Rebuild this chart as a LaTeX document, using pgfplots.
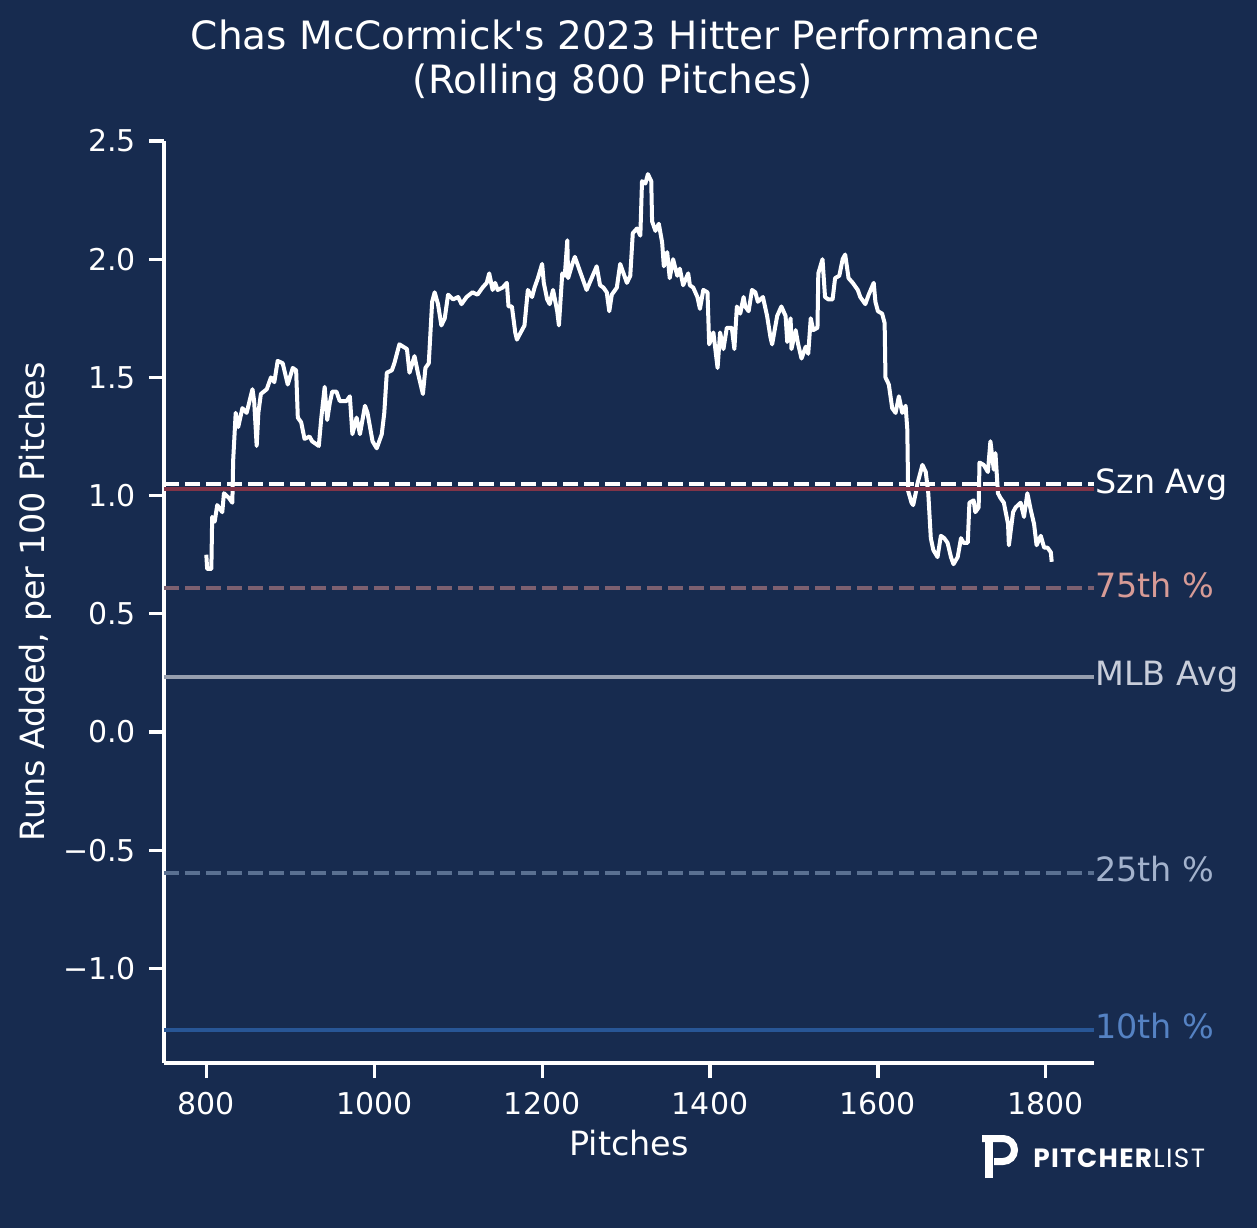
\documentclass[border=0pt]{standalone}
\usepackage{pgfplots}
\pgfplotsset{compat=1.18}
\usepackage{fontspec}
\setmainfont{DejaVu Sans}[Ligatures=TeXOff]
\newfontfamily\logofont{Poppins}[LetterSpace=5]
\definecolor{bg}{RGB}{23,43,79}
\definecolor{redline}{RGB}{128,52,72}
\definecolor{p75line}{RGB}{125,96,112}
\definecolor{p75txt}{RGB}{215,155,150}
\definecolor{mlbline}{RGB}{150,158,175}
\definecolor{mlbtxt}{RGB}{200,205,218}
\definecolor{p25line}{RGB}{90,112,145}
\definecolor{p25txt}{RGB}{163,178,204}
\definecolor{p10line}{RGB}{40,86,150}
\definecolor{p10txt}{RGB}{85,130,195}
\begin{document}
\begin{tikzpicture}
\fill[bg] (0pt,0pt) rectangle (628.5pt,614pt);
\begin{axis}[
  scale only axis, width=465pt, height=461pt,
  anchor=south west, at={(82pt,82.5pt)},
  xmin=749.6, xmax=1857.4, ymin=-1.4, ymax=2.5,
  axis lines=left, axis line style={-, white, line width=1.6pt},
  tick align=outside, major tick length=7.5pt,
  tick style={white, line width=1.6pt},
  xtick={800,1000,1200,1400,1600,1800},
  xticklabels={800,1000,1200,1400,1600,1800},
  ytick={-1,-0.5,0,0.5,1,1.5,2,2.5},
  yticklabels={−1.0,−0.5,0.0,0.5,1.0,1.5,2.0,2.5},
  ticklabel style={font=\fontsize{15pt}{18pt}\selectfont, text=white},
  xticklabel style={yshift=-3.5pt},
  yticklabel style={xshift=-3pt},
  every axis x label/.style={at={(axis description cs:0.5,-0.0998)}, anchor=base, font=\fontsize{16.7pt}{20pt}\selectfont, text=white},
  every axis y label/.style={at={(axis description cs:-0.1380,0.5)}, rotate=90, anchor=center, font=\fontsize{16.7pt}{20pt}\selectfont, text=white},
  xlabel={Pitches}, ylabel={Runs Added, per 100 Pitches},
  clip=false,
]
\addplot[white, line width=2pt, line join=round] coordinates {
(800,0.75) (801,0.69) (806,0.69) (807,0.91) (810,0.89) (813,0.96) (819,0.93) (821,1.01) (827,0.99) (831,0.97)
(832,1.15) (835,1.35) (838,1.29) (843,1.37) (848,1.35) (855,1.45) (857,1.40) (860,1.21) (862,1.35) (865,1.43)
(872,1.45) (877,1.50) (881,1.48) (885,1.57) (891,1.56) (897,1.47) (903,1.54) (907,1.53) (909,1.33) (913,1.31)
(917,1.24) (923,1.25) (926,1.23) (934,1.21) (937,1.33) (941,1.46) (944,1.32) (947,1.39) (950,1.44) (955,1.44)
(959,1.40) (967,1.40) (971,1.42) (974,1.26) (979,1.33) (983,1.26) (989,1.38) (992,1.35) (998,1.23) (1003,1.20)
(1009,1.26) (1012,1.35) (1015,1.52) (1021,1.53) (1024,1.56) (1030,1.64) (1039,1.62) (1042,1.52) (1048,1.59) (1052,1.52)
(1058,1.43) (1061,1.54) (1065,1.56) (1069,1.82) (1072,1.86) (1076,1.81) (1080,1.72) (1084,1.75) (1088,1.85) (1094,1.83)
(1100,1.84) (1104,1.81) (1110,1.84) (1117,1.86) (1123,1.85) (1129,1.88) (1134,1.90) (1137,1.94) (1141,1.87) (1144,1.90)
(1147,1.87) (1153,1.88) (1158,1.90) (1160,1.80) (1164,1.80) (1168,1.69) (1170,1.66) (1176,1.70) (1179,1.72) (1183,1.87)
(1188,1.84) (1191,1.88) (1195,1.92) (1200,1.98) (1202,1.90) (1206,1.83) (1209,1.81) (1213,1.87) (1218,1.78) (1220,1.72)
(1224,1.94) (1227,1.93) (1230,2.08) (1231,1.92) (1236,1.98) (1239,2.01) (1243,1.97) (1248,1.92) (1253,1.87) (1259,1.92)
(1265,1.97) (1269,1.89) (1273,1.88) (1277,1.86) (1280,1.78) (1283,1.85) (1289,1.88) (1293,1.98) (1296,1.95) (1301,1.90)
(1305,1.93) (1308,2.11) (1313,2.13) (1317,2.10) (1319,2.33) (1323,2.32) (1326,2.36) (1330,2.33) (1331,2.16) (1335,2.12)
(1339,2.15) (1343,2.07) (1345,1.97) (1349,2.03) (1352,1.92) (1356,2.00) (1361,1.93) (1364,1.96) (1368,1.89) (1374,1.94)
(1376,1.89) (1380,1.88) (1385,1.84) (1388,1.79) (1392,1.87) (1397,1.86) (1399,1.64) (1404,1.69) (1409,1.54) (1412,1.69)
(1416,1.62) (1420,1.71) (1426,1.71) (1429,1.62) (1432,1.80) (1436,1.77) (1440,1.84) (1442,1.80) (1446,1.78) (1450,1.87)
(1454,1.86) (1457,1.82) (1463,1.84) (1468,1.76) (1472,1.67) (1474,1.64) (1480,1.76) (1485,1.80) (1490,1.76) (1492,1.65)
(1496,1.75) (1497,1.62) (1502,1.70) (1505,1.64) (1509,1.58) (1514,1.63) (1517,1.60) (1520,1.75) (1523,1.70) (1528,1.71)
(1529,1.94) (1534,2.00) (1537,1.84) (1541,1.83) (1546,1.83) (1549,1.92) (1554,1.93) (1558,2.00) (1561,2.02) (1565,1.92)
(1570,1.90) (1576,1.87) (1579,1.84) (1585,1.81) (1589,1.85) (1595,1.90) (1597,1.82) (1600,1.78) (1605,1.77) (1608,1.73)
(1609,1.50) (1613,1.47) (1617,1.37) (1621,1.35) (1625,1.42) (1629,1.35) (1633,1.38) (1635,1.28) (1636,1.02) (1640,0.97)
(1642,0.96) (1645,1.01) (1647,1.05) (1653,1.13) (1657,1.10) (1660,1.01) (1663,0.82) (1666,0.77) (1671,0.74) (1675,0.83)
(1679,0.82) (1683,0.80) (1687,0.74) (1690,0.71) (1695,0.74) (1699,0.82) (1702,0.80) (1707,0.80) (1709,0.97) (1714,0.98)
(1716,0.93) (1720,0.95) (1721,1.14) (1726,1.13) (1731,1.10) (1734,1.23) (1738,1.11) (1740,1.18) (1743,1.01) (1746,0.99)
(1750,0.97) (1755,0.88) (1756,0.79) (1761,0.93) (1764,0.95) (1770,0.97) (1774,0.91) (1778,1.01) (1782,0.94) (1786,0.88)
(1789,0.79) (1794,0.83) (1798,0.78) (1802,0.78) (1806,0.76) (1807,0.72)
};
\addplot[white, line width=2pt, dash pattern=on 7.3pt off 3.2pt] coordinates {(749.6,1.048) (1857.4,1.048)};
\addplot[redline, line width=2pt] coordinates {(749.6,1.026) (1857.4,1.026)};
\addplot[p75line, line width=2pt, dash pattern=on 7.3pt off 3.2pt] coordinates {(749.6,0.610) (1857.4,0.610)};
\addplot[mlbline, line width=2pt] coordinates {(749.6,0.234) (1857.4,0.234)};
\addplot[p25line, line width=2pt, dash pattern=on 7.3pt off 3.2pt] coordinates {(749.6,-0.595) (1857.4,-0.595)};
\addplot[p10line, line width=2pt] coordinates {(749.6,-1.259) (1857.4,-1.259)};
\begin{scope}[every node/.style={anchor=base west, inner sep=0pt, xshift=0.5pt, yshift=-4.6pt, font=\fontsize{16.7pt}{20pt}\selectfont}]
\node[text=white] at (axis cs:1857.4,1.048) {Szn Avg};
\node[text=p75txt] at (axis cs:1857.4,0.610) {75th \%};
\node[text=mlbtxt] at (axis cs:1857.4,0.234) {MLB Avg};
\node[text=p25txt] at (axis cs:1857.4,-0.595) {25th \%};
\node[text=p10txt] at (axis cs:1857.4,-1.259) {10th \%};
\end{scope}
\end{axis}
\node[anchor=base, text=white, font=\fontsize{19.5pt}{23pt}\selectfont] at (307.5pt,589.35pt) {Chas McCormick's 2023 Hitter Performance};
\node[anchor=base, text=white, font=\fontsize{19.5pt}{23pt}\selectfont] at (306.5pt,567.35pt) {(Rolling 800 Pitches)};
% logo
\draw[white, line width=3.5pt] (491pt,44.75pt) -- (501.5pt,44.75pt) arc[start angle=90, end angle=-90, radius=5.75pt] -- (497pt,33.25pt);
\draw[white, line width=4pt] (494.5pt,25pt) -- (494.5pt,44.75pt);
\node[anchor=base west, inner sep=0pt, text=white, font=\logofont\fontsize{13.2pt}{15pt}\selectfont] at (516.5pt,30.5pt) {\textbf{PITCHER}LIST};
\pgfresetboundingbox
\path[use as bounding box] (0pt,0pt) rectangle (628.5pt,614pt);
\end{tikzpicture}
\end{document}
